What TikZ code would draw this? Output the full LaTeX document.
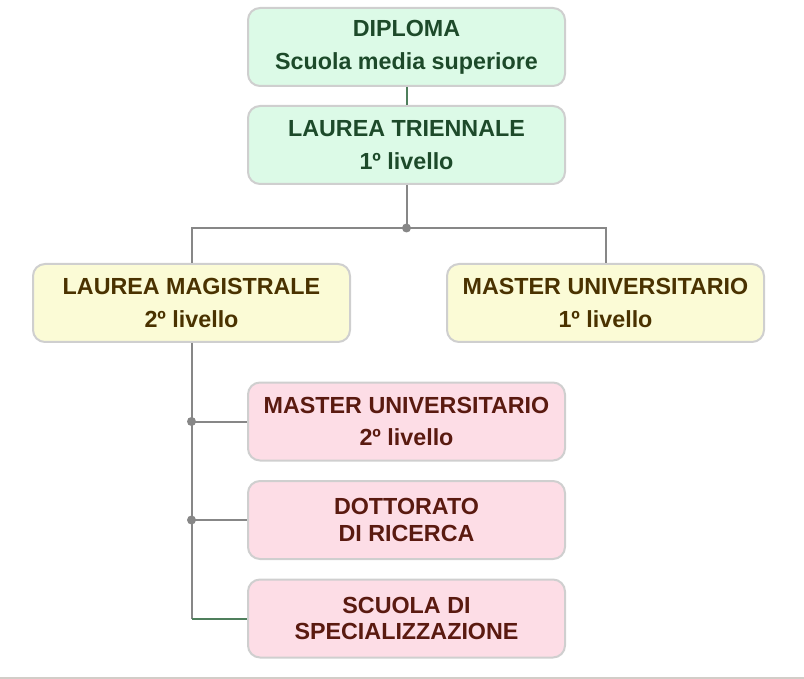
\documentclass[tikz,border=0pt]{standalone}
\usepackage{fontspec}
\setmainfont{Liberation Sans}
\definecolor{gfill}{HTML}{DCFAE7}
\definecolor{gtext}{HTML}{1D4A2A}
\definecolor{yfill}{HTML}{FBFBD6}
\definecolor{ytext}{HTML}{4A3200}
\definecolor{pfill}{HTML}{FDDDE6}
\definecolor{ptext}{HTML}{5A1A10}
\definecolor{bord}{HTML}{CFCFCF}
\definecolor{conn}{HTML}{878787}
\definecolor{gconn}{HTML}{4F7F5C}
\definecolor{baseline}{HTML}{D2CDC8}
\begin{document}
\begin{tikzpicture}[x=1pt,y=-1pt,
  box/.style={draw=bord, line width=2pt, rounded corners=12pt, minimum width=317pt,
    minimum height=78pt, inner sep=0pt, align=center,
    font=\fontsize{23.3}{26.7}\selectfont\bfseries},
  gbox/.style={box, fill=gfill, text=gtext},
  ybox/.style={box, fill=yfill, text=ytext},
  pbox/.style={box, fill=pfill, text=ptext},
  link/.style={draw=conn, line width=2pt},
  glink/.style={draw=gconn, line width=2pt},
  joint/.style={circle, fill=conn, inner sep=0pt, minimum size=9pt}]
\useasboundingbox (0,0) rectangle (804,679);
\node[gbox] (dip) at (406.5,47) {DIPLOMA\\[6pt]Scuola media superiore};
\node[gbox] (tri) at (406.5,145) {LAUREA TRIENNALE\\[6pt]1º livello};
\node[ybox] (mag) at (191.5,303) {LAUREA MAGISTRALE\\[6pt]2º livello};
\node[ybox] (mu1) at (605.5,303) {MASTER UNIVERSITARIO\\[6pt]1º livello};
\node[pbox] (mu2) at (406.5,421.5) {MASTER UNIVERSITARIO\\[6pt]2º livello};
\node[pbox] (dot) at (406.5,520) {DOTTORATO\\DI RICERCA};
\node[pbox] (scu) at (406.5,618.5) {SCUOLA DI\\SPECIALIZZAZIONE};
\coordinate (j1) at (406.5,228);
\coordinate (j2) at (191.5,421.5);
\coordinate (j3) at (191.5,520);
\coordinate (j4) at (191.5,618.5);
\draw[glink] (dip.south) -- (tri.north);
\draw[link] (tri.south) -- (j1);
\draw[link] (j1) -| (mag.north);
\draw[link] (j1) -| (mu1.north);
\draw[link] (mag.south) -- (j4);
\draw[link] (j2) -- (mu2.west);
\draw[link] (j3) -- (dot.west);
\draw[glink] (j4) -- (scu.west);
\node[joint] at (j1) {};
\node[joint] at (j2) {};
\node[joint] at (j3) {};
\draw[draw=baseline, line width=2pt] (0,678) -- (804,678);
\end{tikzpicture}
\end{document}
